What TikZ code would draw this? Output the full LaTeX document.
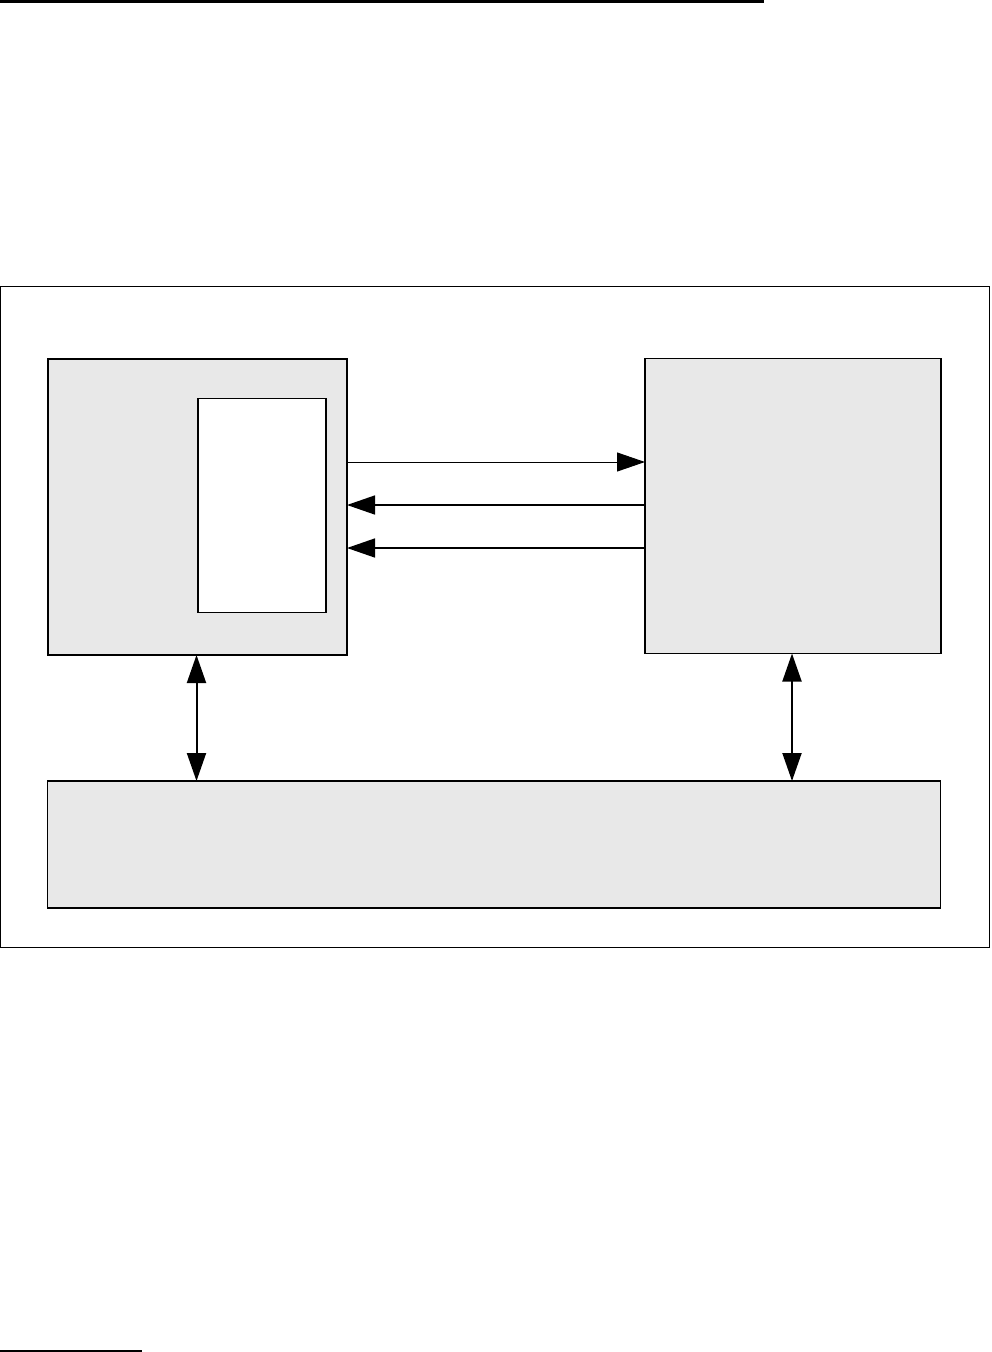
\documentclass[tikz,border=0pt]{standalone}
\usepackage{xcolor}
\usepackage{tikz}
\usetikzlibrary{arrows.meta,positioning}
\definecolor{BoxFill}{HTML}{E8E8E8}

\begin{document}
\begin{tikzpicture}[x=1pt,y=-1pt,
  box/.style={draw,line width=1.5pt,fill=BoxFill,inner sep=0pt,outer sep=0pt},
  arrow/.style={-{Triangle[length=28pt,width=19pt]},line width=1.5pt},
  biarrow/.style={{Triangle[length=28pt,width=19pt]}-{Triangle[length=28pt,width=19pt]},line width=2pt}
]
  \useasboundingbox (0,0) rectangle (992,1352);
  \draw[line width=3pt] (0,1.5) -- (764,1.5);
  \draw[line width=1.2pt] (0,1351) -- (142,1351);
  \node[draw,line width=1pt,inner sep=0pt,outer sep=0pt,minimum width=989pt,minimum height=661pt] (frame) at (495,616.5) {};
  \node[box,minimum width=299pt,minimum height=296pt] (host) at (197.5,507) {};
  \node[box,fill=white,minimum width=128pt,minimum height=214pt] (cache) at (262,505.7) {};
  \node[box,minimum width=296pt,minimum height=295pt] (dev) at (793,506) {};
  \node[box,minimum width=893pt,minimum height=127pt] (mem) at (494,844.5) {};
  \draw[arrow,line width=1pt] (host.east |- 0,462) -- (dev.west |- 0,462);
  \draw[arrow] (dev.west |- 0,505) -- (host.east |- 0,505);
  \draw[arrow] (dev.west |- 0,548) -- (host.east |- 0,548);
  \draw[biarrow] (host.south -| 196.5,0) -- (mem.north -| 196.5,0);
  \draw[biarrow] (dev.south -| 792,0) -- (mem.north -| 792,0);
\end{tikzpicture}
\end{document}
